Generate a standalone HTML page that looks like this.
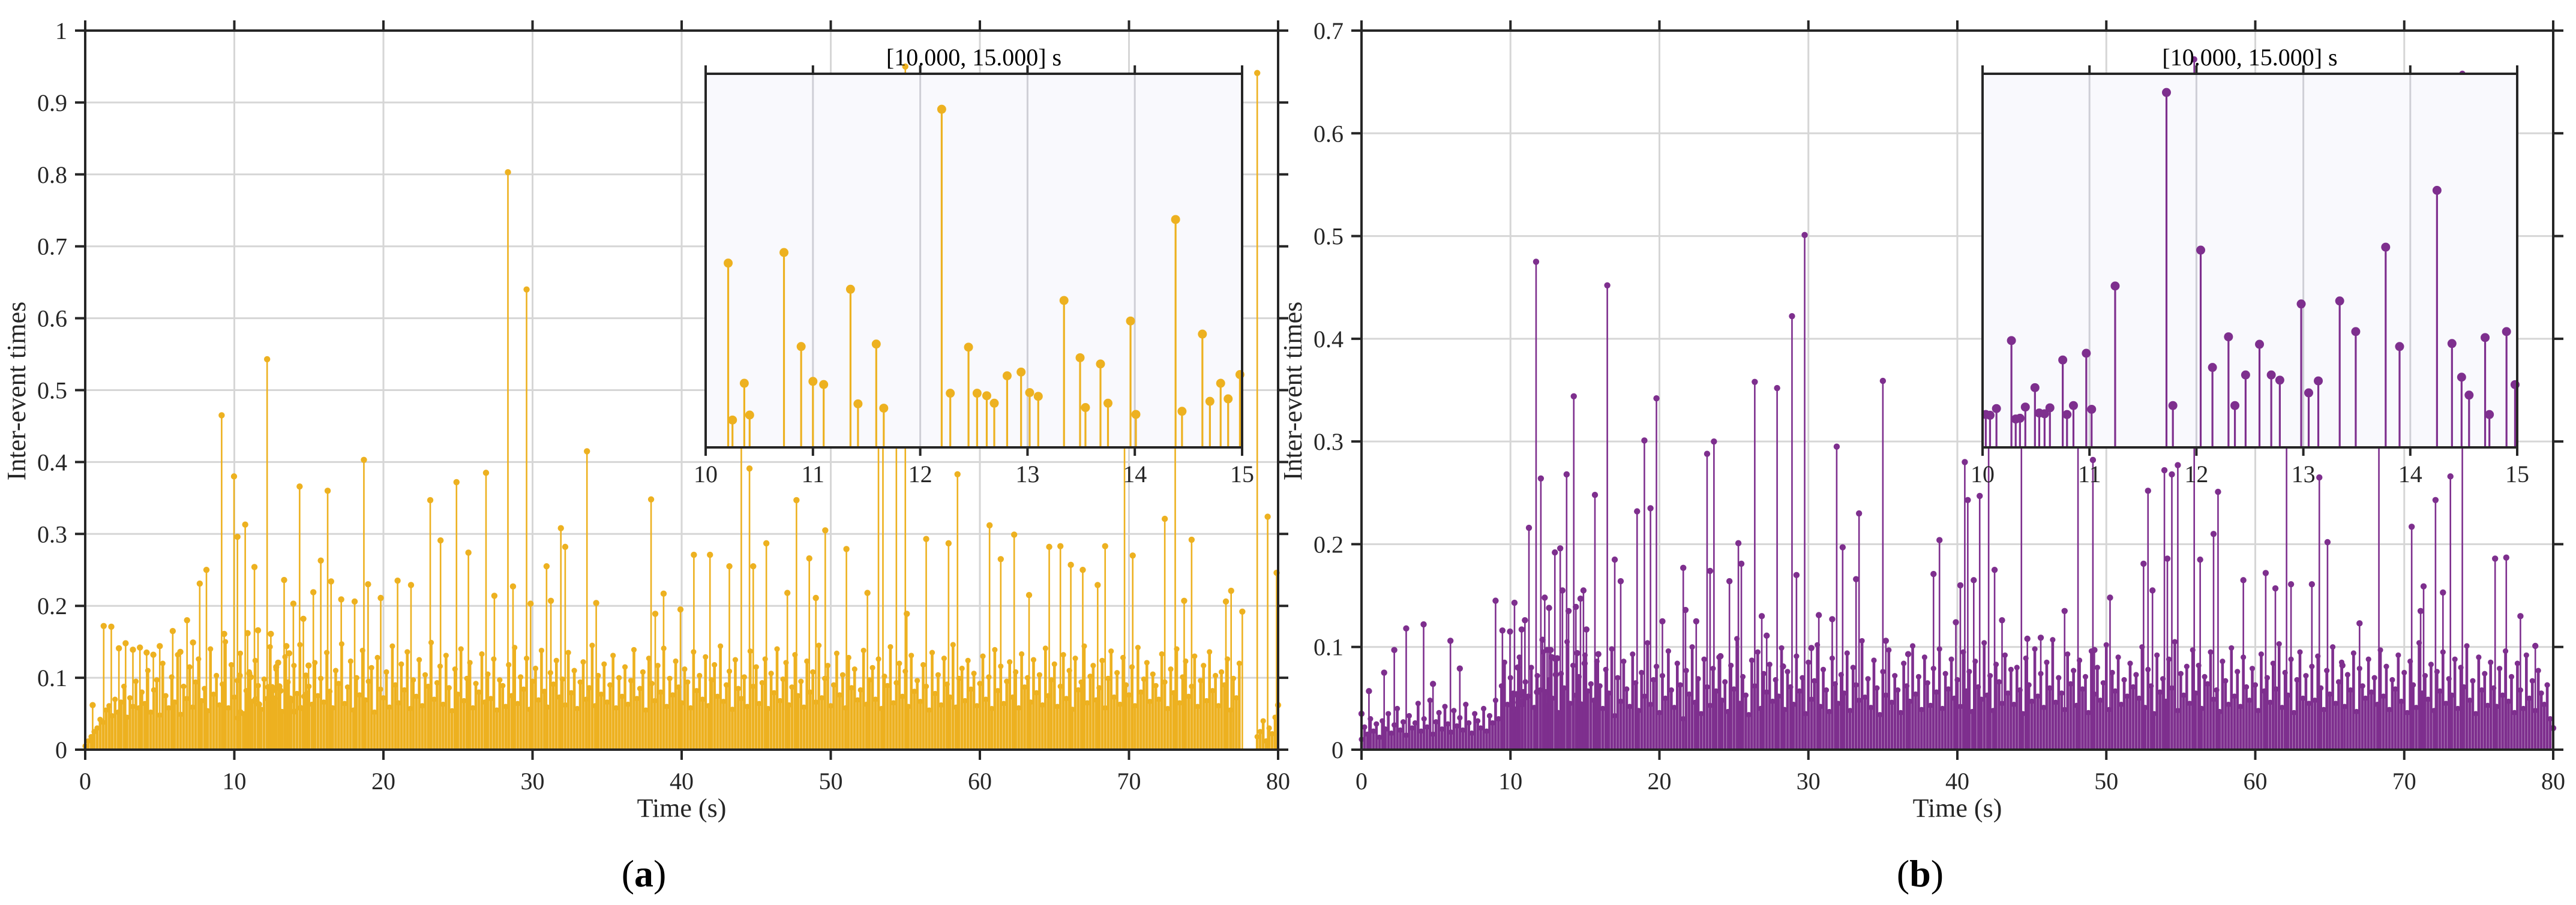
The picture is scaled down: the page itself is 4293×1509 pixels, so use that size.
<!DOCTYPE html>
<html><head><meta charset="utf-8"><style>
html,body{margin:0;padding:0;background:#fff;}
svg{display:block;font-family:"Liberation Serif",serif;}
</style></head><body>
<svg id="fig" width="4293" height="1509" viewBox="0 0 4293 1509" xmlns="http://www.w3.org/2000/svg"></svg>
<script>
// ---------- DATA ----------
const xTickLabels = ['0','10','20','30','40','50','60','70','80'];
const yTickLabelsA = ['0','0.1','0.2','0.3','0.4','0.5','0.6','0.7','0.8','0.9','1'];
const yTickLabelsB = ['0','0.1','0.2','0.3','0.4','0.5','0.6','0.7'];
const insetTickLabels = ['10','11','12','13','14','15'];

// background inter-event values (thousandths), sampled every 0.2 s
const bgStep = 0.2;
const bgA = [
5,12,18,25,30,42,38,55,61,47,70,52,66,88,45,72,60,95,58,80,
64,110,52,83,97,48,120,75,58,101,66,132,49,88,71,115,59,94,126,68,
85,54,140,77,103,62,91,150,58,118,73,96,134,50,82,108,67,124,89,56,
98,71,143,60,112,85,53,129,94,68,117,78,146,57,102,88,63,121,75,99,
66,135,81,58,110,92,147,64,87,123,55,100,76,138,69,95,114,52,128,84,
72,108,59,144,90,65,119,83,136,57,97,74,125,61,104,88,149,70,93,116,
63,131,86,54,112,77,140,68,99,121,58,92,80,133,66,105,71,126,55,97,
89,60,118,75,142,64,101,84,127,56,95,113,69,138,81,59,107,91,124,73,
98,62,135,79,110,57,94,122,70,86,145,61,103,77,119,66,90,131,58,100,
74,115,63,96,139,71,85,108,55,127,92,68,117,80,141,60,99,76,123,87,
65,112,94,58,136,82,103,70,129,61,97,118,74,144,67,90,109,56,125,85,
71,101,60,137,88,115,64,93,126,57,106,79,140,68,98,121,62,87,132,75,
95,59,123,80,108,66,145,72,99,117,61,90,134,76,104,58,128,86,112,69,
83,138,63,97,114,70,126,57,102,89,143,65,93,120,74,109,60,131,81,96,
67,118,88,55,135,78,104,62,127,91,73,146,59,99,113,68,124,84,106,61,
92,130,70,101,57,139,82,116,64,95,122,73,108,58,133,87,100,66,125,79,
104,62,141,75,97,119,60,88,132,71,110,56,127,83,94,144,65,102,117,69,
86,124,58,99,137,73,107,63,128,90,76,115,61,142,80,98,121,67,105,89,
70,133,94,57,112,79,140,65,101,123,74,88,130,60,96,117,68,136,82,103,
61,108,90,126,55,99,72,120,0,0,0,0,0,18,25,40,12,30,22,45];
const bgB = [
10,22,15,30,18,25,12,28,20,35,16,24,40,19,27,14,33,21,26,45,
18,30,22,48,15,27,36,20,42,25,17,38,23,31,19,44,26,16,35,28,
21,40,18,33,26,48,30,62,85,44,70,55,38,90,47,66,52,80,41,72,
58,95,43,68,50,88,36,74,60,105,45,82,53,71,39,92,57,64,48,86,
62,40,78,55,98,33,70,47,86,59,42,93,65,38,75,52,104,44,68,81,
36,72,50,96,58,41,84,63,30,77,54,100,46,69,35,88,61,43,79,57,
90,48,66,37,82,59,108,45,71,53,34,87,62,95,40,74,56,83,47,68,
52,99,39,76,61,44,91,57,70,35,85,49,67,102,42,78,58,37,89,64,
45,73,55,94,38,80,63,48,106,51,69,41,87,60,34,76,53,97,46,72,
58,36,84,62,47,101,54,71,39,90,65,43,79,56,98,40,74,59,88,50,
68,42,95,57,76,37,86,61,49,104,53,72,38,83,66,45,92,55,78,44,
80,58,35,89,63,47,98,52,74,41,85,60,107,46,70,55,39,93,64,77,
43,87,59,71,36,96,54,80,48,65,102,39,75,57,90,44,68,52,84,61,
73,50,100,41,78,62,35,92,56,69,47,88,60,105,38,74,53,81,45,97,
55,82,40,71,64,95,49,58,37,86,67,44,99,52,76,42,90,61,48,79,
63,38,93,57,70,46,84,59,103,41,75,53,88,36,68,95,50,72,45,81,
48,91,60,39,77,54,100,45,66,85,42,73,58,94,37,79,62,50,88,56,
70,44,97,52,81,39,68,59,92,47,75,36,86,63,41,104,55,72,49,83,
38,76,57,95,45,69,53,88,40,80,61,101,48,67,35,90,58,74,43,85,
60,42,79,53,96,47,71,36,84,58,40,92,50,67,38,77,55,44,63,30];

// prominent events (time s, value)
const peakTimesA = [0.5,1.24,1.75,2.26,2.71,3.2,3.67,4.12,4.57,5.0,5.87,6.38,6.83,7.23,7.68,8.13,9.15,9.32,9.98,
10.21,10.25,10.36,10.41,10.73,10.89,11.0,11.1,11.35,11.42,11.59,11.66,12.2,12.28,12.45,12.53,12.62,12.69,12.81,12.94,13.02,13.1,13.34,13.49,13.54,13.68,13.75,13.96,14.01,14.38,14.44,14.63,14.7,14.8,14.87,14.98,
15.3,15.8,16.26,16.49,17.17,18.07,18.69,18.97,19.82,20.95,21.85,23.14,23.83,24.9,25.7,26.88,27.44,28.35,28.69,29.6,29.87,
30.94,31.23,31.9,32.19,33.65,34.27,37.95,38.23,38.79,39.92,40.82,41.9,43.2,44.0,44.55,44.8,45.68,47.09,47.7,48.56,49.0,49.63,
51.05,52.46,53.2,53.5,54.4,55.0,55.1,56.4,57.9,58.5,60.65,61.4,62.3,63.3,64.65,65.4,66.1,66.9,67.9,68.4,69.7,70.25,72.4,73.1,73.7,74.2,76.5,76.85,77.6,78.6,79.3,79.9,80.0];
const peakValsA = [0.062,0.172,0.171,0.141,0.148,0.139,0.142,0.135,0.132,0.144,0.165,0.136,0.180,0.149,0.231,0.250,0.465,0.161,0.380,
0.296,0.044,0.103,0.052,0.313,0.162,0.106,0.101,0.254,0.070,0.166,0.063,0.543,0.087,0.161,0.087,0.083,0.071,0.115,0.121,0.088,0.082,0.236,0.144,0.064,0.134,0.071,0.203,0.053,0.366,0.058,0.182,0.074,0.103,0.078,0.117,
0.219,0.263,0.360,0.234,0.209,0.206,0.403,0.230,0.211,0.235,0.229,0.347,0.291,0.372,0.274,0.385,0.214,0.803,0.227,0.640,0.203,
0.255,0.207,0.308,0.282,0.415,0.204,0.348,0.189,0.217,0.195,0.271,0.271,0.255,0.48,0.391,0.255,0.287,0.218,0.347,0.266,0.211,0.305,
0.279,0.218,0.46,0.52,0.44,0.95,0.189,0.293,0.287,0.383,0.312,0.265,0.299,0.215,0.282,0.283,0.257,0.250,0.229,0.283,0.45,0.270,0.321,0.44,0.207,0.292,0.206,0.221,0.192,0.941,0.324,0.246,0.062];

const peakTimesB = [0,0.5,1.52,2.2,3.0,4.17,4.8,5.97,6.6,9.0,9.46,9.97,
10.03,10.07,10.13,10.27,10.31,10.35,10.4,10.49,10.53,10.58,10.63,10.75,10.79,10.85,10.97,11.02,11.24,11.72,11.78,12.04,12.15,12.3,12.36,12.46,12.59,12.7,12.78,12.98,13.05,13.14,13.34,13.49,13.77,13.9,14.25,14.39,14.48,14.55,14.7,14.74,14.9,14.98,
15.1,15.67,15.9,16.5,17.0,17.4,18.5,18.99,19.4,19.8,20.2,21.6,21.75,22.47,23.2,23.4,23.66,24.1,24.7,25.3,25.5,26.4,26.87,27.2,27.9,28.3,28.9,29.2,29.75,
30.2,30.7,31.6,31.9,32.3,33.2,33.4,35.0,35.2,36.7,38.4,38.8,39.9,40.2,40.5,40.7,41.1,41.5,42.1,42.5,43.0,44.3,44.7,45.6,47.2,48.1,49.1,49.2,
50.25,52.5,52.8,53.1,53.9,54.1,54.4,54.8,55.9,56.3,57.2,57.5,59.2,60.7,61.35,62.1,62.4,63.8,64.3,64.85,65.85,67.0,68.3,70.5,71.1,71.3,72.1,72.6,73.1,73.9,76.1,76.85,77.8,78.8,80.0];
const peakValsB = [0.035,0.057,0.075,0.097,0.118,0.122,0.064,0.106,0.079,0.145,0.116,0.115,
0.044,0.043,0.052,0.143,0.038,0.039,0.054,0.080,0.046,0.045,0.053,0.117,0.044,0.056,0.126,0.051,0.216,0.475,0.056,0.264,0.107,0.148,0.056,0.097,0.138,0.097,0.090,0.192,0.073,0.089,0.196,0.155,0.268,0.135,0.344,0.139,0.094,0.070,0.147,0.044,0.155,0.084,
0.117,0.248,0.093,0.452,0.185,0.164,0.232,0.301,0.235,0.342,0.125,0.177,0.136,0.125,0.288,0.174,0.300,0.091,0.164,0.201,0.181,0.358,0.130,0.111,0.352,0.081,0.422,0.170,0.501,
0.099,0.131,0.127,0.295,0.197,0.166,0.230,0.359,0.106,0.093,0.171,0.204,0.124,0.160,0.280,0.243,0.165,0.247,0.30,0.175,0.126,0.30,0.108,0.109,0.135,0.31,0.282,0.097,
0.148,0.181,0.252,0.155,0.272,0.186,0.268,0.277,0.672,0.185,0.210,0.251,0.165,0.172,0.157,0.33,0.161,0.161,0.265,0.202,0.082,0.123,0.40,0.217,0.135,0.159,0.243,0.153,0.266,0.658,0.186,0.187,0.130,0.101,0.021];

// ---------- DRAWING ----------
const NS='http://www.w3.org/2000/svg';
const svg=document.getElementById('fig');
function mk(tag, attrs, parent){
  const e=document.createElementNS(NS,tag);
  for(const k in attrs) e.setAttribute(k,attrs[k]);
  (parent||svg).appendChild(e);
  return e;
}
const AX='#262626', GRID='#d6d6d6';

function drawChart(id, cfg, bg, pT, pV, yLabels, color){
  const g=mk('g',{});
  
  
  const xs=t=>cfg.x0+(t/80)*(cfg.x1-cfg.x0);
  const ys=v=>cfg.yb-(v/cfg.ymax)*(cfg.yb-cfg.yt);
  const grid=mk('g',{stroke:GRID,'stroke-width':3},g);
  
  
  xTickLabels.forEach(l=>{const x=xs(+l); mk('line',{x1:x,x2:x,y1:cfg.yt,y2:cfg.yb},grid);});
  yLabels.forEach(l=>{const y=ys(+l); mk('line',{x1:cfg.x0,x2:cfg.x1,y1:y,y2:y},grid);});
  const ser=mk('g',{},g);
  
  
  // background dense stems
  bg.forEach((v,i)=>{ if(v<=0) return;
    const x=xs(i*bgStep), y=ys(v/1000);
    const st=mk('line',{x1:x,x2:x,y1:cfg.yb,y2:y,stroke:color,'stroke-width':4.6},ser);
    
    
    const c=mk('circle',{cx:x,cy:y,r:4.6,fill:color},ser);
    
    
  });
  pT.forEach((t,i)=>{
    const x=xs(t), y=ys(pV[i]);
    const st=mk('line',{x1:x,x2:x,y1:cfg.yb,y2:y,stroke:color,'stroke-width':2.6},ser);
    
    
    const c=mk('circle',{cx:x,cy:y,r:5.2,fill:color},ser);
    
    
  });
  const ax=mk('g',{stroke:AX,'stroke-width':4,fill:'none'},g);
  
  
  mk('rect',{x:cfg.x0,y:cfg.yt,width:cfg.x1-cfg.x0,height:cfg.yb-cfg.yt},ax);
  const TL=17;
  xTickLabels.forEach(l=>{const x=xs(+l);
    mk('line',{x1:x,x2:x,y1:cfg.yb,y2:cfg.yb+TL},ax);
    mk('line',{x1:x,x2:x,y1:cfg.yt,y2:cfg.yt-TL},ax);
    const t=mk('text',{x:x,y:cfg.yb+66,'text-anchor':'middle','font-size':40,fill:AX,stroke:'none'},g);
    t.textContent=l;
    
    
  });
  yLabels.forEach(l=>{const y=ys(+l);
    mk('line',{x1:cfg.x0-TL,x2:cfg.x0,y1:y,y2:y},ax);
    mk('line',{x1:cfg.x1,x2:cfg.x1+TL,y1:y,y2:y},ax);
    const t=mk('text',{x:cfg.x0-30,y:y+14,'text-anchor':'end','font-size':40,fill:AX,stroke:'none'},g);
    t.textContent=l;
    
    
  });
  const xl=mk('text',{x:(cfg.x0+cfg.x1)/2,y:1362,'text-anchor':'middle','font-size':44,fill:AX},g);
  xl.textContent='Time (s)';
  
  
  const yl=mk('text',{x:0,y:0,'text-anchor':'middle','font-size':44,fill:AX,transform:`translate(${cfg.x0-100},652) rotate(-90)`},g);
  yl.textContent='Inter-event times';
  
  
  const cap=mk('text',{x:cfg.capX,y:1478,'text-anchor':'middle','font-size':64,fill:'#000'},g);
  const o1=mk('tspan',{},cap); o1.textContent='(';
  const o2=mk('tspan',{'font-weight':'bold'},cap); o2.textContent=id;
  const o3=mk('tspan',{},cap); o3.textContent=')';
  
  

  const ins=cfg.inset;
  const ig=mk('g',{},g);
  
  
  const ixs=t=>ins.x0+((t-10)/5)*(ins.x1-ins.x0);
  const iys=v=>ins.yb-(v/ins.ymax)*(ins.yb-ins.yt);
  mk('rect',{x:ins.x0,y:ins.yt,width:ins.x1-ins.x0,height:ins.yb-ins.yt,fill:'#f9f9fd'},ig);
  insetTickLabels.forEach(l=>{const x=ixs(+l); mk('line',{x1:x,x2:x,y1:ins.yt,y2:ins.yb,stroke:'#cfcfd6','stroke-width':3},ig);});
  const iser=mk('g',{},ig);
  
  
  pT.forEach((t,i)=>{ if(t<10||t>15) return;
    const x=ixs(t), y=iys(pV[i]);
    const st=mk('line',{x1:x,x2:x,y1:ins.yb,y2:y,stroke:color,'stroke-width':3.2},iser);
    
    
    const c=mk('circle',{cx:x,cy:y,r:7.5,fill:color},iser);
    
    
  });
  const iax=mk('g',{stroke:AX,'stroke-width':4,fill:'none'},ig);
  mk('line',{x1:ins.x0,x2:ins.x1,y1:ins.yt,y2:ins.yt},iax);
  mk('line',{x1:ins.x0,x2:ins.x1,y1:ins.yb,y2:ins.yb},iax);
  mk('line',{x1:ins.x0,x2:ins.x0,y1:ins.yt,y2:ins.yb},iax);
  mk('line',{x1:ins.x1,x2:ins.x1,y1:ins.yt,y2:ins.yb},iax);
  insetTickLabels.forEach(l=>{const x=ixs(+l);
    mk('line',{x1:x,x2:x,y1:ins.yb,y2:ins.yb+14},iax);
    mk('line',{x1:x,x2:x,y1:ins.yt,y2:ins.yt-14},iax);
    const t=mk('text',{x:x,y:ins.yb+58,'text-anchor':'middle','font-size':40,fill:AX},ig);
    t.textContent=l;
    
    
  });
  const it=mk('text',{x:(ins.x0+ins.x1)/2,y:ins.yt-14,'text-anchor':'middle','font-size':40,fill:'#000'},ig);
  it.textContent='[10.000, 15.000] s';
  
  
}

drawChart('a',{x0:142,x1:2130,yt:51,yb:1250,ymax:1,capX:1073,
  inset:{x0:1176,x1:2070,yt:123,yb:746,ymax:0.6}}, bgA, peakTimesA, peakValsA, yTickLabelsA, '#EDB120');
drawChart('b',{x0:2269,x1:4255,yt:51,yb:1250,ymax:0.7,capX:3200,
  inset:{x0:3304,x1:4195,yt:123,yb:746,ymax:0.5}}, bgB, peakTimesB, peakValsB, yTickLabelsB, '#7E2F8E');
</script>
</body></html>
